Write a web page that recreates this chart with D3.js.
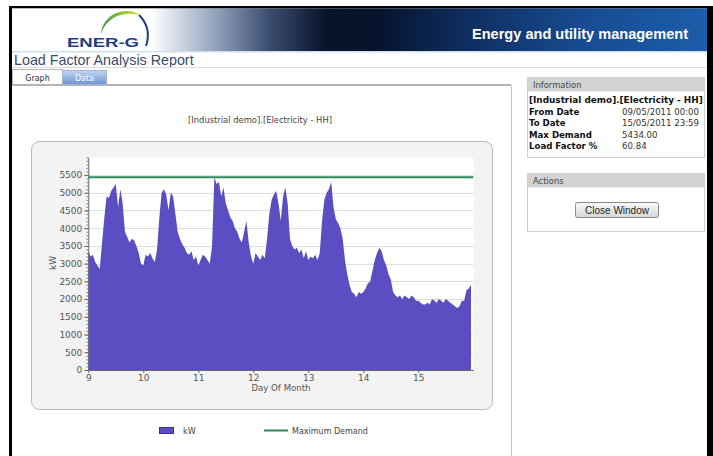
<!DOCTYPE html>
<html>
<head>
<meta charset="utf-8">
<script src="https://cdn.jsdelivr.net/npm/d3@7"></script>
<style>
html, body { margin: 0; padding: 0; background: #fff; overflow: hidden; }
</style>
</head>
<body>
<div id="chart"></div>
<script>
const width = 713
const height = 456

// data: hourly kW, one array per day of month
const dayTicks = [9, 10, 11, 12, 13, 14, 15]
const yTicks = [0, 500, 1000, 1500, 2000, 2500, 3000, 3500, 4000, 4500, 5000, 5500]
const kwDay9 = [3350, 3200, 3250, 3050, 2950, 2850, 3600, 4300, 4900, 4850, 5050, 5150, 5250, 4600, 5100, 4700, 3900, 3750, 3600, 3700, 3650, 3500, 3300, 3000]
const kwDay10 = [2950, 3250, 3200, 3300, 3150, 3050, 3400, 4300, 5000, 5100, 4950, 4500, 5000, 4900, 4400, 3900, 3700, 3550, 3450, 3300, 3250, 3350, 3100, 3200]
const kwDay11 = [2950, 3100, 3250, 3200, 3100, 3000, 3500, 5434, 5250, 5300, 4900, 5150, 4700, 4500, 4300, 4200, 4000, 3900, 3700, 3600, 3900, 4200, 3600, 3200]
const kwDay12 = [3000, 3300, 3200, 3100, 3250, 3150, 3700, 4400, 4800, 4950, 5050, 4700, 4200, 4900, 5150, 4700, 3700, 3500, 3400, 3450, 3300, 3400, 3150, 3350]
const kwDay13 = [3100, 3200, 3150, 3250, 3100, 3300, 4200, 4800, 5000, 5100, 5300, 4600, 4250, 4150, 4000, 3700, 3100, 2700, 2400, 2200, 2150, 2050, 2200, 2150]
const kwDay14 = [2200, 2300, 2450, 2500, 2800, 3100, 3300, 3450, 3350, 3100, 2950, 2700, 2550, 2200, 2100, 2050, 2100, 2000, 2100, 2050, 2000, 2100, 2050, 1950]
const kwDay15 = [1950, 1900, 1850, 1850, 1900, 1850, 2000, 1950, 1900, 2000, 1950, 1900, 2000, 1950, 1900, 1850, 1800, 1750, 1800, 1950, 1950, 2250, 2300, 2400]
const maxDemand = 5434.00
const loadFactor = 60.84
const meterName = "[Industrial demo].[Electricity - HH]"
const infoRows = [["From Date", "09/05/2011 00:00"], ["To Date", "15/05/2011 23:59"], ["Max Demand", maxDemand.toFixed(2)], ["Load Factor %", loadFactor.toFixed(2)]]

const days = [kwDay9, kwDay10, kwDay11, kwDay12, kwDay13, kwDay14, kwDay15]
let readings = []
days.forEach((vals, i) => {
    vals.forEach((v, h) => readings.push({t: dayTicks[i] + h / 24, kw: v}))
})

const svg = d3.select("#chart").append("svg").attr("width", width).attr("height", height)
const defs = svg.append("defs")

function gradient(id, stops, vertical) {
    let g = defs.append("linearGradient").attr("id", id)
        .attr("x1", 0).attr("y1", 0).attr("x2", vertical ? 0 : 1).attr("y2", vertical ? 1 : 0)
    stops.forEach(s => g.append("stop").attr("offset", s[0]).attr("stop-color", s[1]))
}
gradient("headerGrad", [[0, "#fff"], [0.2, "#fff"], [0.245, "#c9d3e0"], [0.3, "#8a9bb6"], [0.37, "#3b4d70"], [0.45, "#0a142c"], [0.52, "#07122b"], [0.65, "#0e2d5e"], [0.82, "#174b91"], [1, "#1d5dab"]])
gradient("logoGrad", [[0, "#2f9b49"], [0.6, "#9cc93a"], [1, "#e3e02a"]])
gradient("tabGrad", [[0, "#c3d6f2"], [1, "#6f95d3"]], true)
gradient("btnGrad", [[0, "#fafafa"], [1, "#d6d6d6"]], true)

// page frame + header
svg.append("rect").attr("x", 9).attr("y", 6).attr("width", 704).attr("height", 2.5).attr("fill", "#000")
svg.append("rect").attr("x", 9).attr("y", 6).attr("width", 3).attr("height", 450).attr("fill", "#000")
svg.append("rect").attr("x", 707).attr("y", 6).attr("width", 6).attr("height", 450).attr("fill", "#000")
svg.append("rect").attr("x", 12).attr("y", 8.5).attr("width", 695).attr("height", 42.5).attr("fill", "url(#headerGrad)")
svg.append("rect").attr("x", 12).attr("y", 51).attr("width", 695).attr("height", 1.5).attr("fill", "#d3deeb")

// logo
svg.append("path").attr("d", "M101,34 A29,27 0 0 1 141,16 A25,25 0 0 0 101,34 Z").attr("fill", "url(#logoGrad)")
svg.append("path").attr("d", "M139,15 Q152,28 146,46").attr("fill", "none").attr("stroke", "#1f3c88").attr("stroke-width", 2)
svg.append("text").attr("x", 67).attr("y", 47).text("ENER-G")
    .attr("font-family", "Liberation Sans").attr("font-weight", "bold").attr("font-size", 13)
    .attr("textLength", 72).attr("lengthAdjust", "spacingAndGlyphs").attr("fill", "#1f3c88")
svg.append("text").attr("x", 472).attr("y", 39).text("Energy and utility management")
    .attr("font-family", "Liberation Sans").attr("font-weight", "bold").attr("font-size", 15.5)
    .attr("textLength", 216).attr("lengthAdjust", "spacingAndGlyphs").attr("fill", "#fff")

svg.append("text").attr("x", 14).attr("y", 64.5).text("Load Factor Analysis Report")
    .attr("font-family", "Liberation Sans").attr("font-size", 14.3).attr("fill", "#3a4a6c")
svg.append("line").attr("x1", 12).attr("x2", 707).attr("y1", 67.5).attr("y2", 67.5).attr("stroke", "#dcdcdc")

// tabs + left panel
svg.append("line").attr("x1", 12).attr("x2", 511).attr("y1", 85).attr("y2", 85).attr("stroke", "#b4b4b4").attr("stroke-width", 2)
svg.append("line").attr("x1", 511.5).attr("x2", 511.5).attr("y1", 85).attr("y2", 456).attr("stroke", "#c4c4c4")
svg.append("rect").attr("x", 12.5).attr("y", 69.5).attr("width", 50).attr("height", 15).attr("fill", "#fff").attr("stroke", "#b4b4b4")
svg.append("rect").attr("x", 62.5).attr("y", 70.5).attr("width", 44).attr("height", 14).attr("fill", "url(#tabGrad)").attr("stroke", "#9db3d4")
svg.append("text").attr("x", 37.5).attr("y", 80.5).attr("text-anchor", "middle").text("Graph")
    .attr("font-family", "DejaVu Sans").attr("font-size", 8).attr("fill", "#333")
svg.append("text").attr("x", 84.5).attr("y", 80.5).attr("text-anchor", "middle").text("Data")
    .attr("font-family", "DejaVu Sans").attr("font-size", 8).attr("fill", "#f4f8ff")

svg.append("text").attr("x", 260).attr("y", 122.5).attr("text-anchor", "middle").text(meterName)
    .attr("font-family", "DejaVu Sans").attr("font-size", 8.4).attr("fill", "#444")

// chart frame
svg.append("rect").attr("x", 31.5).attr("y", 141.5).attr("width", 461).attr("height", 268).attr("rx", 8)
    .attr("fill", "#f3f3f3").attr("stroke", "#b8b8b8")

const x = d3.scaleLinear().domain([9, 16]).range([88.3, 473.3])
const y = d3.scaleLinear().domain([0, 6000]).range([370, 157.3])

const plot = svg.append("g").attr("id", "plot")
plot.append("rect").attr("x", x(9)).attr("y", y(6000)).attr("width", x(16) - x(9)).attr("height", y(0) - y(6000)).attr("fill", "#fff")
plot.selectAll("line.grid").data(yTicks.filter(d => d > 0)).enter().append("line")
    .attr("class", "grid")
    .attr("x1", x(9)).attr("x2", x(16))
    .attr("y1", d => Math.round(y(d)) + 0.5).attr("y2", d => Math.round(y(d)) + 0.5)
    .attr("stroke", "#dedede")

const area = d3.area().x(d => x(d.t)).y0(y(0)).y1(d => y(d.kw))
plot.append("path").datum(readings).attr("d", area).attr("fill", "#5b4ec3")

plot.append("line").attr("x1", x(9)).attr("x2", x(16)).attr("y1", y(maxDemand)).attr("y2", y(maxDemand))
    .attr("stroke", "#2e8a59").attr("stroke-width", 2)

function styleAxis(g) {
    g.select(".domain").attr("stroke", "#666")
    g.selectAll(".tick line").attr("stroke", "#666")
    g.selectAll(".tick text").attr("fill", "#555").attr("font-family", "DejaVu Sans").attr("font-size", 9)
}

const yMinor = svg.append("g").attr("transform", `translate(${x(9)},0)`)
    .call(d3.axisLeft(y).tickValues(d3.range(0, 6001, 100)).tickSize(2).tickFormat("").tickSizeOuter(0))
yMinor.select(".domain").remove()
yMinor.selectAll(".tick line").attr("stroke", "#888")

const yAxisGroup = svg.append("g").attr("transform", `translate(${x(9)},0)`)
    .call(d3.axisLeft(y).tickValues(yTicks).tickFormat(d3.format("d")).tickSize(4).tickPadding(2).tickSizeOuter(0))
yAxisGroup.call(styleAxis)

const xAxisGroup = svg.append("g").attr("transform", `translate(0,${y(0)})`)
    .call(d3.axisBottom(x).tickValues(dayTicks).tickFormat(d3.format("d")).tickSize(3).tickPadding(2).tickSizeOuter(0))
xAxisGroup.call(styleAxis)

svg.append("text").attr("transform", "translate(56,263) rotate(-90)").attr("text-anchor", "middle").text("kW")
    .attr("font-family", "DejaVu Sans").attr("font-size", 9).attr("fill", "#555")
svg.append("text").attr("x", 281).attr("y", 391).attr("text-anchor", "middle").text("Day Of Month")
    .attr("font-family", "DejaVu Sans").attr("font-size", 8.6).attr("fill", "#555")

// legend
svg.append("rect").attr("x", 159.5).attr("y", 427.5).attr("width", 14).attr("height", 6).attr("fill", "#5b4ec3").attr("stroke", "#3d3390")
svg.append("text").attr("x", 183).attr("y", 433.5).text("kW")
    .attr("font-family", "DejaVu Sans").attr("font-size", 8).attr("fill", "#444")
svg.append("line").attr("x1", 264).attr("x2", 288).attr("y1", 430.5).attr("y2", 430.5).attr("stroke", "#2e8a59").attr("stroke-width", 2)
svg.append("text").attr("x", 292).attr("y", 433.5).text("Maximum Demand")
    .attr("font-family", "DejaVu Sans").attr("font-size", 8).attr("fill", "#444")

// right panel: information
const info = svg.append("g").attr("id", "info")
info.append("rect").attr("x", 527.5).attr("y", 77.5).attr("width", 177).attr("height", 80).attr("fill", "#fff").attr("stroke", "#d0d0d0")
info.append("rect").attr("x", 527.5).attr("y", 77.5).attr("width", 177).attr("height", 14).attr("fill", "#d3d3d3")
info.append("text").attr("x", 533).attr("y", 88).text("Information")
    .attr("font-family", "DejaVu Sans").attr("font-size", 8.4).attr("fill", "#444")
info.append("text").attr("x", 529).attr("y", 103).text(meterName)
    .attr("font-family", "DejaVu Sans").attr("font-weight", "bold").attr("font-size", 8.9).attr("fill", "#111")
info.selectAll("text.lbl").data(infoRows).enter().append("text").attr("class", "lbl")
    .attr("x", 529).attr("y", (d, i) => 114.5 + i * 11.5).text(d => d[0])
    .attr("font-family", "DejaVu Sans").attr("font-weight", "bold").attr("font-size", 8.6).attr("fill", "#111")
info.selectAll("text.val").data(infoRows).enter().append("text").attr("class", "val")
    .attr("x", 622).attr("y", (d, i) => 114.5 + i * 11.5).text(d => d[1])
    .attr("font-family", "DejaVu Sans").attr("font-size", 8.6).attr("fill", "#333")

// right panel: actions
const actions = svg.append("g").attr("id", "actions")
actions.append("rect").attr("x", 527.5).attr("y", 173.5).attr("width", 177).attr("height", 58).attr("fill", "#fff").attr("stroke", "#d0d0d0")
actions.append("rect").attr("x", 527.5).attr("y", 173.5).attr("width", 177).attr("height", 14).attr("fill", "#d3d3d3")
actions.append("text").attr("x", 533).attr("y", 184).text("Actions")
    .attr("font-family", "DejaVu Sans").attr("font-size", 8.4).attr("fill", "#444")
actions.append("rect").attr("x", 575.5).attr("y", 202.5).attr("width", 83).attr("height", 15).attr("rx", 2)
    .attr("fill", "url(#btnGrad)").attr("stroke", "#8a8a8a")
actions.append("text").attr("x", 617).attr("y", 213.5).attr("text-anchor", "middle").text("Close Window")
    .attr("font-family", "Liberation Sans").attr("font-size", 10).attr("fill", "#222")
</script>
</body>
</html>
